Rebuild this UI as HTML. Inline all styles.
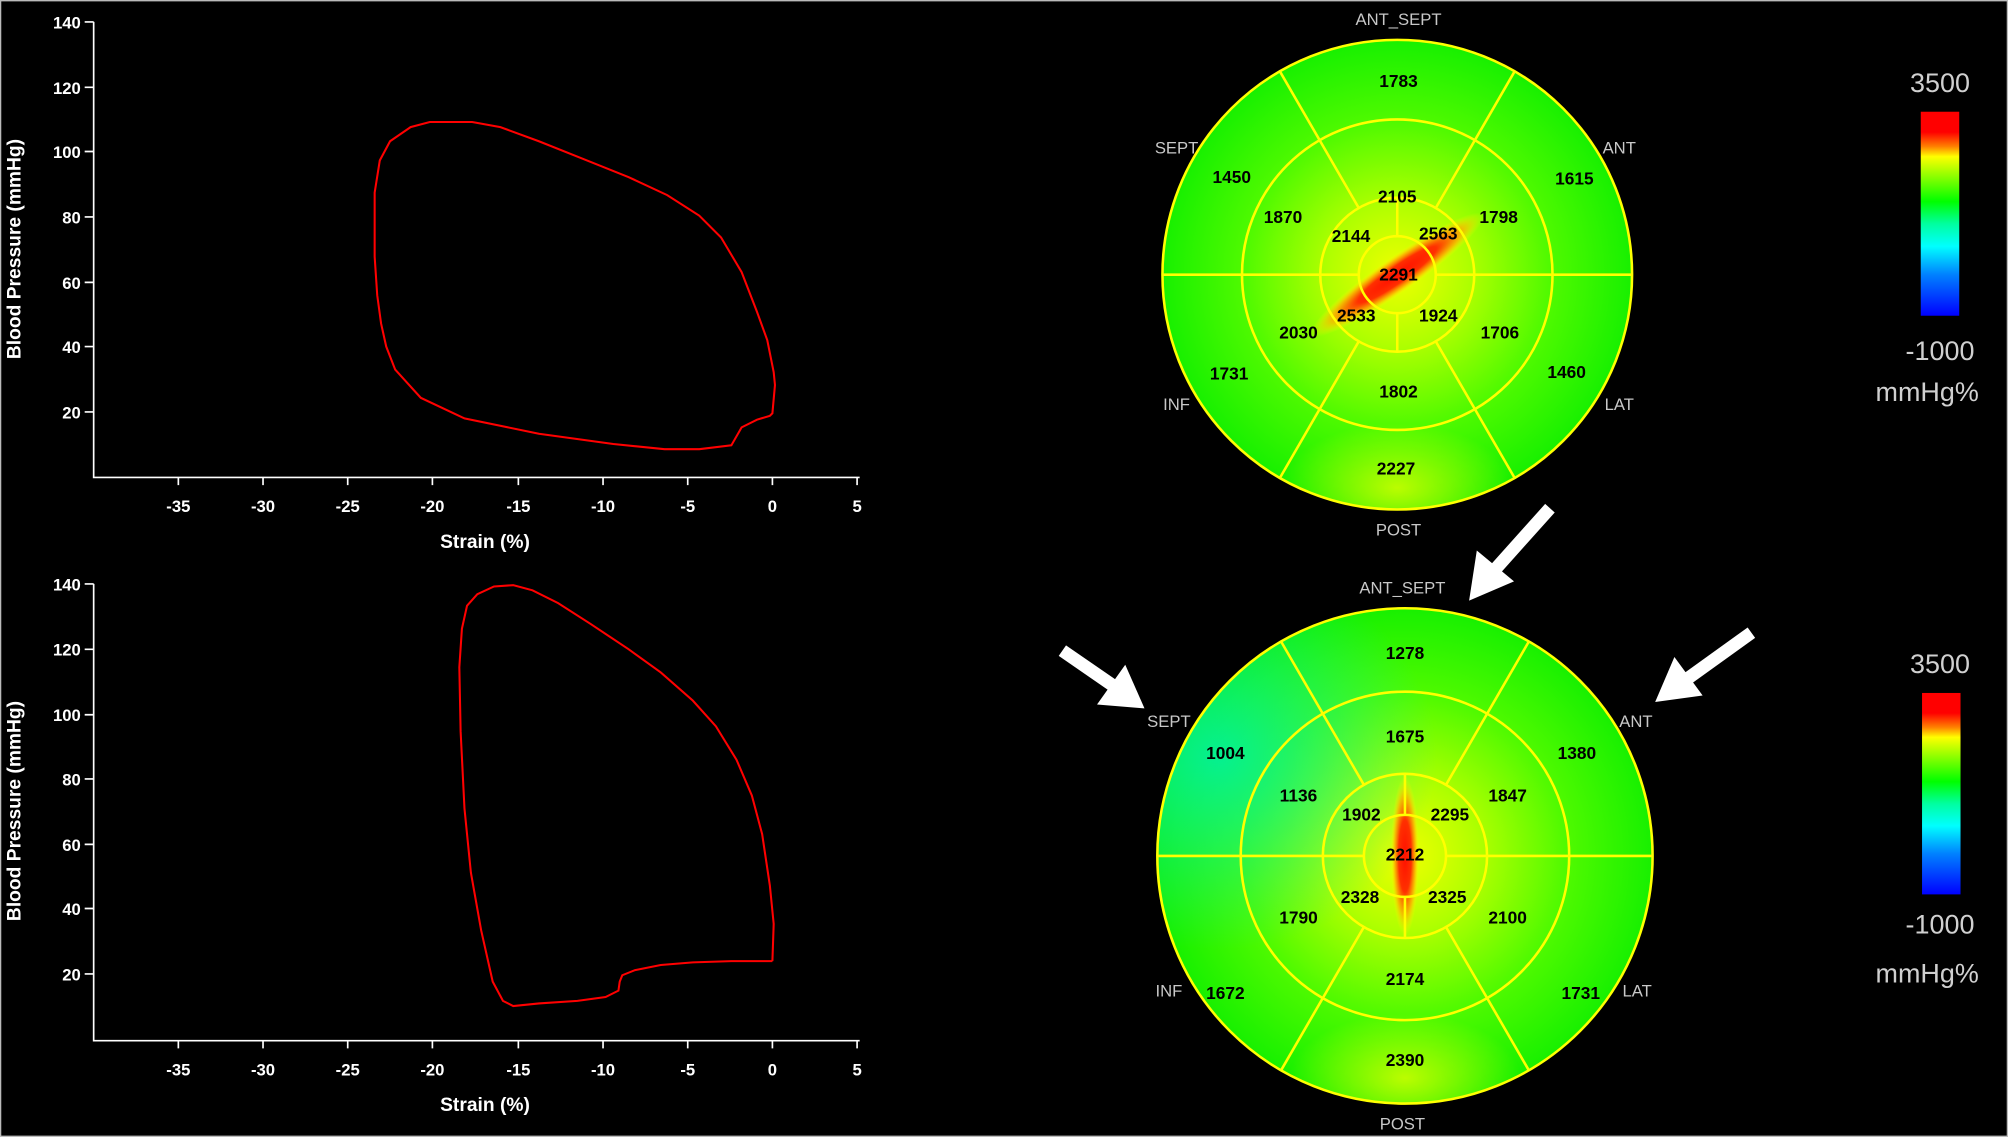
<!DOCTYPE html>
<html><head><meta charset="utf-8"><style>
html,body{margin:0;padding:0;background:#000;}
svg{display:block;}
.t{font-family:"Liberation Sans",sans-serif;font-weight:bold;fill:#fff;font-size:13px;}
.n{font-family:"Liberation Sans",sans-serif;font-weight:bold;fill:#000;font-size:13.5px;text-anchor:middle;dominant-baseline:middle;}
.g{font-family:"Liberation Sans",sans-serif;fill:#c8c8c8;font-size:13px;text-anchor:middle;dominant-baseline:middle;}
.c{font-family:"Liberation Sans",sans-serif;fill:#d0d0d0;font-size:21px;text-anchor:middle;dominant-baseline:middle;}
</style></head><body>
<svg width="2008" height="1137" viewBox="0 0 1565 886" xmlns="http://www.w3.org/2000/svg">
<defs>
<radialGradient id="base" cx="0.5" cy="0.5" r="0.5">
<stop offset="0" stop-color="#f0ff00"/><stop offset="0.3" stop-color="#b0ff00"/><stop offset="0.65" stop-color="#50fa00"/><stop offset="1" stop-color="#18f000"/>
</radialGradient>
<radialGradient id="cyan" cx="0.5" cy="0.5" r="0.5">
<stop offset="0" stop-color="#00f0a0" stop-opacity="0.9"/><stop offset="1" stop-color="#00f0a0" stop-opacity="0"/>
</radialGradient>
<radialGradient id="post" cx="0.5" cy="0.5" r="0.5">
<stop offset="0" stop-color="#e0ff00" stop-opacity="0.8"/><stop offset="1" stop-color="#e0ff00" stop-opacity="0"/>
</radialGradient>
<radialGradient id="hot" cx="0.5" cy="0.5" r="0.5">
<stop offset="0" stop-color="#ff1000"/><stop offset="0.45" stop-color="#ff3000"/><stop offset="0.75" stop-color="#ffb000" stop-opacity="0.8"/><stop offset="1" stop-color="#ffff00" stop-opacity="0"/>
</radialGradient>
<linearGradient id="cb" x1="0" y1="0" x2="0" y2="1">
<stop offset="0" stop-color="#ff0000"/><stop offset="0.1" stop-color="#ff0000"/><stop offset="0.17" stop-color="#ff8000"/><stop offset="0.22" stop-color="#ffff00"/><stop offset="0.3" stop-color="#a0ff00"/><stop offset="0.44" stop-color="#00ff00"/><stop offset="0.55" stop-color="#00ffa0"/><stop offset="0.66" stop-color="#00ffff"/><stop offset="0.8" stop-color="#0080ff"/><stop offset="1" stop-color="#0000ff"/>
</linearGradient>
<clipPath id="c1"><circle cx="1089" cy="214" r="183"/></clipPath>
<clipPath id="c2"><circle cx="1095" cy="667" r="193"/></clipPath>
</defs>
<rect x="0" y="0" width="1565" height="886" fill="#000" stroke="#bbb" stroke-width="2"/>

<!-- top plot -->
<g stroke="#fff" stroke-width="1.3" fill="none">
<path d="M73,17V372H670"/>
<path d="M66,17H73M66,68H73M66,118H73M66,169H73M66,220H73M66,270H73M66,321H73"/>
<path d="M139,372v6M205,372v6M271,372v6M337,372v6M404,372v6M470,372v6M536,372v6M602,372v6M668,372v6"/>
</g>
<g class="t" text-anchor="end">
<text x="63" y="22">140</text><text x="63" y="73">120</text><text x="63" y="123">100</text><text x="63" y="174">80</text><text x="63" y="225">60</text><text x="63" y="275">40</text><text x="63" y="326">20</text>
</g>
<g class="t" text-anchor="middle">
<text x="139" y="399">-35</text><text x="205" y="399">-30</text><text x="271" y="399">-25</text><text x="337" y="399">-20</text><text x="404" y="399">-15</text><text x="470" y="399">-10</text><text x="536" y="399">-5</text><text x="602" y="399">0</text><text x="668" y="399">5</text>
<text x="378" y="427" font-size="15">Strain (%)</text>
<text transform="translate(16,194) rotate(-90)" font-size="15">Blood Pressure (mmHg)</text>
</g>
<path fill="none" stroke="#f00" stroke-width="1.6" d="M602,322 L604,300 L603,290 L598,265 L590,243 L578,212 L562,185 L545,168 L520,152 L490,138 L455,124 L420,110 L390,99 L368,95 L335,95 L320,99 L304,110 L296,125 L292,150 L292,200 L294,230 L297,252 L301,270 L308,288 L328,310 L362,326 L420,338 L478,346 L518,350 L545,350 L570,347 L578,333 L590,327 L600,324 Z"/>

<!-- bottom plot -->
<g stroke="#fff" stroke-width="1.3" fill="none">
<path d="M73,455V811H670"/>
<path d="M66,455H73M66,506H73M66,557H73M66,607H73M66,658H73M66,708H73M66,759H73"/>
<path d="M139,811v6M205,811v6M271,811v6M337,811v6M404,811v6M470,811v6M536,811v6M602,811v6M668,811v6"/>
</g>
<g class="t" text-anchor="end">
<text x="63" y="460">140</text><text x="63" y="511">120</text><text x="63" y="562">100</text><text x="63" y="612">80</text><text x="63" y="663">60</text><text x="63" y="713">40</text><text x="63" y="764">20</text>
</g>
<g class="t" text-anchor="middle">
<text x="139" y="838">-35</text><text x="205" y="838">-30</text><text x="271" y="838">-25</text><text x="337" y="838">-20</text><text x="404" y="838">-15</text><text x="470" y="838">-10</text><text x="536" y="838">-5</text><text x="602" y="838">0</text><text x="668" y="838">5</text>
<text x="378" y="866" font-size="15">Strain (%)</text>
<text transform="translate(16,632) rotate(-90)" font-size="15">Blood Pressure (mmHg)</text>
</g>
<path fill="none" stroke="#f00" stroke-width="1.6" d="M602,749 L603,720 L600,690 L594,650 L586,620 L574,592 L558,566 L540,546 L515,524 L490,506 L460,486 L435,470 L415,460 L400,456 L385,457 L372,463 L364,472 L360,490 L358,520 L359,570 L362,630 L367,680 L375,725 L384,765 L392,780 L400,784 L420,782 L450,780 L472,777 L482,772 L483,765 L485,760 L495,756 L515,752 L540,750 L570,749 L602,749"/>

<!-- top bullseye -->
<g clip-path="url(#c1)">
<circle cx="1089" cy="214" r="183" fill="url(#base)"/>
<ellipse cx="1089" cy="380" rx="90" ry="50" fill="url(#post)"/>
<ellipse cx="1089" cy="214" rx="82" ry="14" transform="rotate(-35 1089 214)" fill="url(#hot)"/>
</g>
<g stroke="#ffff00" stroke-width="2" fill="none">
<circle cx="1089" cy="214" r="183"/><circle cx="1089" cy="214" r="121"/><circle cx="1089" cy="214" r="60"/><circle cx="1089" cy="214" r="30"/>
<path d="M906,214H1059M1119,214H1272M1089,154V184M1089,244V274"/>
<path d="M1119,162L1180.5,55.5M1059,162L997.5,55.5M1119,266L1180.5,372.5M1059,266L997.5,372.5"/>
</g>
<g class="n">
<text x="1090" y="64">1783</text><text x="1089" y="154">2105</text><text x="960" y="139">1450</text><text x="1227" y="140">1615</text>
<text x="1000" y="170">1870</text><text x="1053" y="185">2144</text><text x="1121" y="183">2563</text><text x="1168" y="170">1798</text>
<text x="1090" y="215">2291</text><text x="1012" y="260">2030</text><text x="1057" y="247">2533</text><text x="1121" y="247">1924</text>
<text x="1169" y="260">1706</text><text x="958" y="292">1731</text><text x="1221" y="291">1460</text><text x="1090" y="306">1802</text><text x="1088" y="366">2227</text>
</g>
<g class="g">
<text x="1090" y="16">ANT_SEPT</text><text x="917" y="116">SEPT</text><text x="1262" y="116">ANT</text><text x="917" y="316">INF</text><text x="1262" y="316">LAT</text><text x="1090" y="414">POST</text>
</g>

<!-- bottom bullseye -->
<g clip-path="url(#c2)">
<circle cx="1095" cy="667" r="193" fill="url(#base)"/>
<ellipse cx="950" cy="590" rx="170" ry="150" fill="url(#cyan)"/>
<ellipse cx="1095" cy="840" rx="90" ry="50" fill="url(#post)"/>
<ellipse cx="1095" cy="667" rx="11" ry="62" fill="url(#hot)"/>
</g>
<g stroke="#ffff00" stroke-width="2" fill="none">
<circle cx="1095" cy="667" r="193"/><circle cx="1095" cy="667" r="128"/><circle cx="1095" cy="667" r="64"/><circle cx="1095" cy="667" r="32"/>
<path d="M902,667H1063M1127,667H1288M1095,603V635M1095,699V731"/>
<path d="M1127,611.6L1191.5,500M1063,611.6L998.5,500M1127,722.4L1191.5,834M1063,722.4L998.5,834"/>
</g>
<g class="n">
<text x="1095" y="510">1278</text><text x="1095" y="575">1675</text><text x="955" y="588">1004</text><text x="1229" y="588">1380</text>
<text x="1012" y="621">1136</text><text x="1061" y="636">1902</text><text x="1130" y="636">2295</text><text x="1175" y="621">1847</text>
<text x="1095" y="667">2212</text><text x="1012" y="716">1790</text><text x="1060" y="700">2328</text><text x="1128" y="700">2325</text>
<text x="1175" y="716">2100</text><text x="955" y="775">1672</text><text x="1232" y="775">1731</text><text x="1095" y="764">2174</text><text x="1095" y="827">2390</text>
</g>
<g class="g">
<text x="1093" y="459">ANT_SEPT</text><text x="911" y="563">SEPT</text><text x="1275" y="563">ANT</text><text x="911" y="773">INF</text><text x="1276" y="773">LAT</text><text x="1093" y="877">POST</text>
</g>

<!-- arrows -->
<g fill="#fff" stroke="#fff">
<line x1="1208" y1="396" x2="1165" y2="444" stroke-width="10"/>
<polygon points="1145,468 1151,429 1180,453" stroke="none"/>
<line x1="828" y1="507" x2="870" y2="536" stroke-width="10"/>
<polygon points="892,552 855,549 877,518" stroke="none"/>
<line x1="1365" y1="493" x2="1315" y2="529" stroke-width="10"/>
<polygon points="1290,547 1305,512 1327,542" stroke="none"/>
</g>

<!-- colorbars -->
<rect x="1497" y="87" width="30" height="159" fill="url(#cb)"/>
<text class="c" x="1512" y="66">3500</text><text class="c" x="1512" y="275">-1000</text><text class="c" x="1502" y="307">mmHg%</text>
<rect x="1498" y="540" width="30" height="157" fill="url(#cb)"/>
<text class="c" x="1512" y="519">3500</text><text class="c" x="1512" y="722">-1000</text><text class="c" x="1502" y="760">mmHg%</text>
</svg>
</body></html>
